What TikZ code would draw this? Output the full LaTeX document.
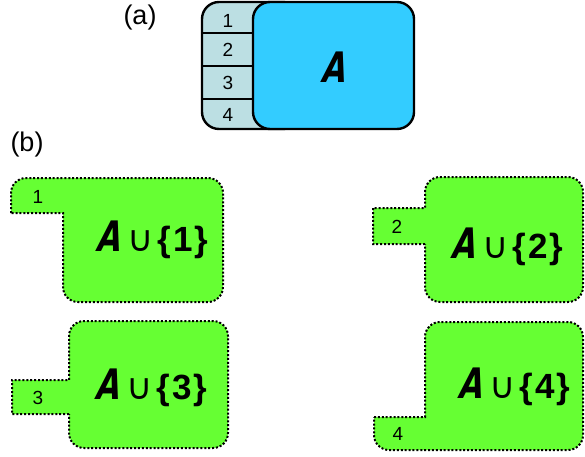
\documentclass[tikz,border=0pt]{standalone}
\usepackage{fontspec}
\setmainfont{Liberation Sans}
\newfontfamily\symfont{DejaVu Sans}
\newfontfamily\Afont{DejaVu Sans}[BoldFeatures={FakeSlant=0.32}]
\definecolor{gfill}{HTML}{66FF33}
\definecolor{bfill}{HTML}{33CCFF}
\definecolor{lbfill}{HTML}{BCDFE3}
\newcommand\bigAletter{\scalebox{0.74}[1]{\Afont\bfseries\fontsize{42}{42}\selectfont A}}
\newcommand\unionlabel[1]{\bigAletter\hspace{8pt}{\symfont\fontsize{36}{36}\selectfont ∪}\hspace{4pt}{\bfseries\fontsize{35}{35}\selectfont\{\kern2pt#1\kern2pt\}}}
\begin{document}
\begin{tikzpicture}[x=1pt,y=1pt,
  gshape/.style={fill=gfill, draw=black, line width=2pt, dash pattern=on 2pt off 1.9pt},
  lab/.style={font=\fontsize{19}{19}\selectfont, inner sep=0pt},
  caption/.style={font=\fontsize{27}{27}\selectfont, inner sep=0pt},
  ulab/.style={inner sep=0pt}]
\useasboundingbox (0,0) rectangle (585,456);
% (a)
\node[caption] (capa) at (140,438) {(a)};
\filldraw[fill=lbfill, draw=black, line width=2.4pt, rounded corners=17pt] (202,327) rectangle (300,454);
\draw[line width=1.8pt] (202,423) -- (254,423);
\draw[line width=1.8pt] (202,390) -- (254,390);
\draw[line width=1.8pt] (202,357) -- (254,357);
\filldraw[fill=bfill, draw=black, line width=2.4pt, rounded corners=17pt] (253,327) rectangle (414,454);
\node[lab] (a1) at (228,435) {1};
\node[lab] (a2) at (228,406) {2};
\node[lab] (a3) at (228,373) {3};
\node[lab] (a4) at (228,341) {4};
\node[ulab] (aA) at (333,389) {\bigAletter};
% (b)
\node[caption] (capb) at (27,311) {(b)};
\path[gshape] (11,243) -- (11,263) arc[start angle=180,end angle=90,radius=15] -- (208,278) arc[start angle=90,end angle=0,radius=15] -- (223,169) arc[start angle=0,end angle=-90,radius=15] -- (78,154) arc[start angle=270,end angle=180,radius=15] -- (63,243) -- cycle;
\path[gshape] (425,212) -- (373,212) -- (373,248) -- (425,248) -- (425,264) arc[start angle=180,end angle=90,radius=15] -- (568,279) arc[start angle=90,end angle=0,radius=15] -- (583,169) arc[start angle=0,end angle=-90,radius=15] -- (440,154) arc[start angle=270,end angle=180,radius=15] -- cycle;
\path[gshape] (69,42) -- (12,42) -- (12,76) -- (69,76) -- (69,120) arc[start angle=180,end angle=90,radius=15] -- (213,135) arc[start angle=90,end angle=0,radius=15] -- (228,23) arc[start angle=0,end angle=-90,radius=15] -- (84,8) arc[start angle=270,end angle=180,radius=15] -- cycle;
\path[gshape] (374,39) -- (425,39) -- (425,119) arc[start angle=180,end angle=90,radius=15] -- (568,134) arc[start angle=90,end angle=0,radius=15] -- (583,21) arc[start angle=0,end angle=-90,radius=15] -- (389,6) arc[start angle=270,end angle=180,radius=15] -- cycle;
\node[lab] (b1) at (38,259) {1};
\node[lab] (b2) at (397,229) {2};
\node[lab] (b3) at (38,58) {3};
\node[lab] (b4) at (398,22) {4};
\node[ulab] (u1) at (152,216) {\unionlabel{1}};
\node[ulab] (u2) at (507,209) {\unionlabel{2}};
\node[ulab] (u3) at (151,68) {\unionlabel{3}};
\node[ulab] (u4) at (514,69) {\unionlabel{4}};
\end{tikzpicture}
\end{document}
